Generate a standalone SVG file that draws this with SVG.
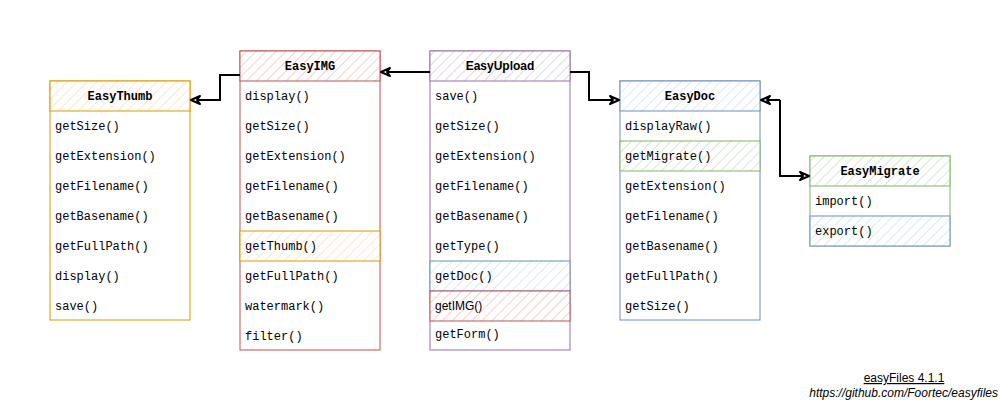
<svg xmlns="http://www.w3.org/2000/svg" width="1001" height="400" viewBox="0 0 1001 400">
<style>
.m{font-family:"Liberation Mono","DejaVu Sans Mono",monospace;font-size:12px;fill:#000}
.t{font-family:"Liberation Mono","DejaVu Sans Mono",monospace;font-size:12px;font-weight:bold;fill:#000;text-anchor:middle}
.s{font-family:"Liberation Sans",Arial,sans-serif;font-size:12px;fill:#000}
.ts{font-family:"Liberation Sans",Arial,sans-serif;font-size:12px;font-weight:bold;fill:#000;text-anchor:middle}
.c{fill:none;stroke:#000;stroke-width:2}
</style>
<defs>
<pattern id="ho" width="7" height="7" patternUnits="userSpaceOnUse" patternTransform="rotate(45)"><rect width="7" height="7" fill="#fff"/><line x1="0" y1="0" x2="0" y2="7" stroke="#ffe6cc" stroke-width="2"/></pattern>
<pattern id="hr" width="7" height="7" patternUnits="userSpaceOnUse" patternTransform="rotate(45)"><rect width="7" height="7" fill="#fff"/><line x1="0" y1="0" x2="0" y2="7" stroke="#f8cecc" stroke-width="2"/></pattern>
<pattern id="hp" width="7" height="7" patternUnits="userSpaceOnUse" patternTransform="rotate(45)"><rect width="7" height="7" fill="#fff"/><line x1="0" y1="0" x2="0" y2="7" stroke="#e1d5e7" stroke-width="2"/></pattern>
<pattern id="hb" width="7" height="7" patternUnits="userSpaceOnUse" patternTransform="rotate(45)"><rect width="7" height="7" fill="#fff"/><line x1="0" y1="0" x2="0" y2="7" stroke="#dae8fc" stroke-width="2"/></pattern>
<pattern id="hg" width="7" height="7" patternUnits="userSpaceOnUse" patternTransform="rotate(45)"><rect width="7" height="7" fill="#fff"/><line x1="0" y1="0" x2="0" y2="7" stroke="#d5e8d4" stroke-width="2"/></pattern>
<marker id="a" markerWidth="12" markerHeight="12" refX="10" refY="5" orient="auto" markerUnits="userSpaceOnUse" viewBox="0 0 12 10">
<path d="M1,1 L10,5 L1,9 L4,5 Z" fill="#fff" stroke="#000" stroke-width="2" stroke-linejoin="round"/>
</marker>
</defs>
<rect width="1001" height="400" fill="#fff"/>

<g id="EasyThumb">
<rect x="50" y="81" width="140" height="239" fill="#fff" stroke="#d79b00"/>
<rect x="50" y="81" width="140" height="30" fill="url(#ho)" stroke="#d79b00"/>
<text class="t" x="120" y="100">EasyThumb</text>
<text class="m" x="55" y="130">getSize()</text>
<text class="m" x="55" y="160">getExtension()</text>
<text class="m" x="55" y="190">getFilename()</text>
<text class="m" x="55" y="220">getBasename()</text>
<text class="m" x="55" y="250">getFullPath()</text>
<text class="m" x="55" y="280">display()</text>
<text class="m" x="55" y="310">save()</text>
</g>

<g id="EasyIMG">
<rect x="240" y="51" width="140" height="299" fill="#fff" stroke="#b85450"/>
<rect x="240" y="51" width="140" height="30" fill="url(#hr)" stroke="#b85450"/>
<text class="t" x="310" y="70">EasyIMG</text>
<text class="m" x="245" y="100">display()</text>
<text class="m" x="245" y="130">getSize()</text>
<text class="m" x="245" y="160">getExtension()</text>
<text class="m" x="245" y="190">getFilename()</text>
<text class="m" x="245" y="220">getBasename()</text>
<rect x="240" y="231" width="140" height="30" fill="url(#ho)" stroke="#d79b00"/>
<text class="m" x="245" y="250">getThumb()</text>
<text class="m" x="245" y="280">getFullPath()</text>
<text class="m" x="245" y="310">watermark()</text>
<text class="m" x="245" y="340">filter()</text>
</g>

<g id="EasyUpload">
<rect x="430" y="51" width="140" height="299" fill="#fff" stroke="#9673a6"/>
<rect x="430" y="51" width="140" height="30" fill="url(#hp)" stroke="#9673a6"/>
<text class="ts" x="500" y="70">EasyUpload</text>
<text class="m" x="435" y="100">save()</text>
<text class="m" x="435" y="130">getSize()</text>
<text class="m" x="435" y="160">getExtension()</text>
<text class="m" x="435" y="190">getFilename()</text>
<text class="m" x="435" y="220">getBasename()</text>
<text class="m" x="435" y="250">getType()</text>
<rect x="430" y="261" width="140" height="30" fill="url(#hb)" stroke="#6c8ebf"/>
<text class="m" x="435" y="280">getDoc()</text>
<rect x="430" y="291" width="140" height="30" fill="url(#hr)" stroke="#b85450"/>
<text class="s" x="435" y="310">getIMG()</text>
<text class="m" x="435" y="338">getForm()</text>
</g>

<g id="EasyDoc">
<rect x="620" y="81" width="140" height="239" fill="#fff" stroke="#6c8ebf"/>
<rect x="620" y="81" width="140" height="30" fill="url(#hb)" stroke="#6c8ebf"/>
<text class="t" x="690" y="100">EasyDoc</text>
<text class="m" x="625" y="130">displayRaw()</text>
<rect x="620" y="141" width="140" height="30" fill="url(#hg)" stroke="#82b366"/>
<text class="m" x="625" y="160">getMigrate()</text>
<text class="m" x="625" y="190">getExtension()</text>
<text class="m" x="625" y="220">getFilename()</text>
<text class="m" x="625" y="250">getBasename()</text>
<text class="m" x="625" y="280">getFullPath()</text>
<text class="m" x="625" y="310">getSize()</text>
</g>

<g id="EasyMigrate">
<rect x="810" y="156" width="140" height="90" fill="#fff" stroke="#82b366"/>
<rect x="810" y="156" width="140" height="30" fill="url(#hg)" stroke="#82b366"/>
<text class="t" x="880" y="175">EasyMigrate</text>
<text class="m" x="815" y="205">import()</text>
<rect x="810" y="216" width="140" height="30" fill="url(#hb)" stroke="#6c8ebf"/>
<text class="m" x="815" y="235">export()</text>
</g>

<g id="connectors">
<path class="c" d="M240,75 L220,75 L220,100 L191,100" marker-end="url(#a)"/>
<path class="c" d="M430,72 L381,72" marker-end="url(#a)"/>
<path class="c" d="M570,72 L589,72 L589,100 L619,100" marker-end="url(#a)"/>
<path class="c" d="M780,100 L780,176 L809,176" marker-end="url(#a)"/>
<path class="c" d="M780,100 L761,100" marker-end="url(#a)"/>
</g>

<g id="footer">
<text class="s" x="904" y="382" text-anchor="middle" text-decoration="underline">easyFiles 4.1.1</text>
<text class="s" x="998" y="397" text-anchor="end" font-style="italic">https://github.com/Foortec/easyfiles</text>
</g>
</svg>
